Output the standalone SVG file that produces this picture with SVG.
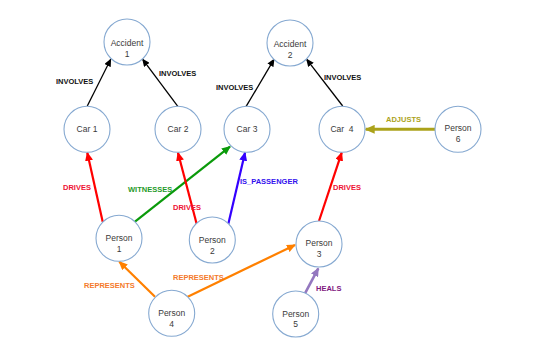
<svg xmlns="http://www.w3.org/2000/svg" width="535" height="343" viewBox="0 0 535 343">
<style>
.n circle{fill:#fff;stroke:#86a9d1;stroke-width:1.1}
.n text{font-family:"Liberation Sans",Arial,sans-serif;font-size:8.5px;fill:#3a3a3a;text-anchor:middle}
.e line{fill:none}
.lb{font-family:"Liberation Sans",Arial,sans-serif;font-size:7.5px;font-weight:bold}
</style>
<defs>
<marker id="mk" markerUnits="userSpaceOnUse" markerWidth="8" markerHeight="7" refX="7" refY="3.5" orient="auto"><path d="M0,0 L8,3.5 L0,7 z" fill="#000"/></marker>
<marker id="mr" markerUnits="userSpaceOnUse" markerWidth="9" markerHeight="8" refX="8" refY="4" orient="auto"><path d="M0,0 L9,4 L0,8 z" fill="#ff0000"/></marker>
<marker id="mg" markerUnits="userSpaceOnUse" markerWidth="9" markerHeight="8" refX="8" refY="4" orient="auto"><path d="M0,0 L9,4 L0,8 z" fill="#0a9a0a"/></marker>
<marker id="mb" markerUnits="userSpaceOnUse" markerWidth="9" markerHeight="8" refX="8" refY="4" orient="auto"><path d="M0,0 L9,4 L0,8 z" fill="#3300ff"/></marker>
<marker id="mo" markerUnits="userSpaceOnUse" markerWidth="9" markerHeight="8" refX="8" refY="4" orient="auto"><path d="M0,0 L9,4 L0,8 z" fill="#ff8000"/></marker>
<marker id="mp" markerUnits="userSpaceOnUse" markerWidth="9" markerHeight="8" refX="8" refY="4" orient="auto"><path d="M0,0 L9,4 L0,8 z" fill="#9478bf"/></marker>
<marker id="my" markerUnits="userSpaceOnUse" markerWidth="10" markerHeight="9" refX="9" refY="4.5" orient="auto"><path d="M0,0 L10,4.5 L0,9 z" fill="#aba21a"/></marker>
</defs>
<rect width="535" height="343" fill="#fff"/>
<g id="connectors" class="e">
<line x1="87.3" y1="106" x2="110.7" y2="59.3" stroke="#000" stroke-width="1.3" marker-end="url(#mk)"/>
<line x1="178" y1="106.7" x2="142.7" y2="59.3" stroke="#000" stroke-width="1.3" marker-end="url(#mk)"/>
<line x1="246" y1="106.7" x2="274" y2="59.3" stroke="#000" stroke-width="1.3" marker-end="url(#mk)"/>
<line x1="342.7" y1="106" x2="306.7" y2="59.3" stroke="#000" stroke-width="1.3" marker-end="url(#mk)"/>
<line x1="435" y1="129.3" x2="365.7" y2="129.3" stroke="#aba21a" stroke-width="3" marker-end="url(#my)"/>
<line x1="102.7" y1="221.7" x2="87.3" y2="152.7" stroke="#ff0000" stroke-width="2.2" marker-end="url(#mr)"/>
<line x1="135" y1="221.7" x2="230" y2="146.7" stroke="#0a9a0a" stroke-width="2.2" marker-end="url(#mg)"/>
<line x1="196.7" y1="224" x2="178" y2="152.7" stroke="#ff0000" stroke-width="2.2" marker-end="url(#mr)"/>
<line x1="228.3" y1="224" x2="245" y2="152.7" stroke="#3300ff" stroke-width="2.2" marker-end="url(#mb)"/>
<line x1="319" y1="221" x2="341.7" y2="152.7" stroke="#ff0000" stroke-width="2.2" marker-end="url(#mr)"/>
<line x1="155" y1="296.7" x2="119.3" y2="261.7" stroke="#ff8000" stroke-width="2.2" marker-end="url(#mo)"/>
<line x1="186.7" y1="297.3" x2="295" y2="245" stroke="#ff8000" stroke-width="2.2" marker-end="url(#mo)"/>
<line x1="305" y1="293.3" x2="318.3" y2="268.3" stroke="#9478bf" stroke-width="2.6" marker-end="url(#mp)"/>
</g>
<g id="labels">
<text class="lb" x="56" y="83.7" fill="#111">INVOLVES</text>
<text class="lb" x="159" y="75.5" fill="#111">INVOLVES</text>
<text class="lb" x="216" y="89.5" fill="#111">INVOLVES</text>
<text class="lb" x="324" y="80" fill="#111">INVOLVES</text>
<text class="lb" x="386" y="122" fill="#aba21a">ADJUSTS</text>
<text class="lb" x="63" y="190" fill="#ee1133">DRIVES</text>
<text class="lb" x="128" y="191.7" fill="#1f9a2a">WITNESSES</text>
<text class="lb" x="173" y="210" fill="#ee1133">DRIVES</text>
<text class="lb" x="240" y="183.7" fill="#3311ee">IS_PASSENGER</text>
<text class="lb" x="333" y="190" fill="#ee1133">DRIVES</text>
<text class="lb" x="84" y="288" fill="#f47a2a">REPRESENTS</text>
<text class="lb" x="173" y="280" fill="#f47a2a">REPRESENTS</text>
<text class="lb" x="316" y="291" fill="#7f1a7f">HEALS</text>
</g>
<g id="accident1" class="n"><circle cx="127" cy="42" r="23"/><text x="127" y="46">Accident</text><text x="127" y="56.5">1</text></g>
<g id="accident2" class="n"><circle cx="290" cy="43" r="23"/><text x="290" y="47">Accident</text><text x="290" y="57.5">2</text></g>
<g id="car1" class="n"><circle cx="87" cy="129.3" r="23"/><text x="87" y="132.3">Car 1</text></g>
<g id="car2" class="n"><circle cx="178" cy="129.3" r="23"/><text x="178" y="132.3">Car 2</text></g>
<g id="car3" class="n"><circle cx="247" cy="129.3" r="23"/><text x="247" y="132.3">Car 3</text></g>
<g id="car4" class="n"><circle cx="342" cy="129.3" r="23"/><text x="342" y="132.3" xml:space="preserve" style="white-space:pre">Car  4</text></g>
<g id="person6" class="n"><circle cx="458" cy="129.3" r="23"/><text x="458" y="131.3">Person</text><text x="458" y="141.5">6</text></g>
<g id="person1" class="n"><circle cx="119" cy="238.3" r="23"/><text x="119" y="241.3">Person</text><text x="119" y="252">1</text></g>
<g id="person2" class="n"><circle cx="212.3" cy="240" r="23"/><text x="212.3" y="243">Person</text><text x="212.3" y="253.7">2</text></g>
<g id="person3" class="n"><circle cx="319" cy="244" r="23"/><text x="319" y="246">Person</text><text x="319" y="256.7">3</text></g>
<g id="person4" class="n"><circle cx="171.7" cy="313.3" r="23"/><text x="171.7" y="316">Person</text><text x="171.7" y="326.7">4</text></g>
<g id="person5" class="n"><circle cx="295.7" cy="314" r="23"/><text x="295.7" y="316.5">Person</text><text x="295.7" y="327.2">5</text></g>
</svg>
